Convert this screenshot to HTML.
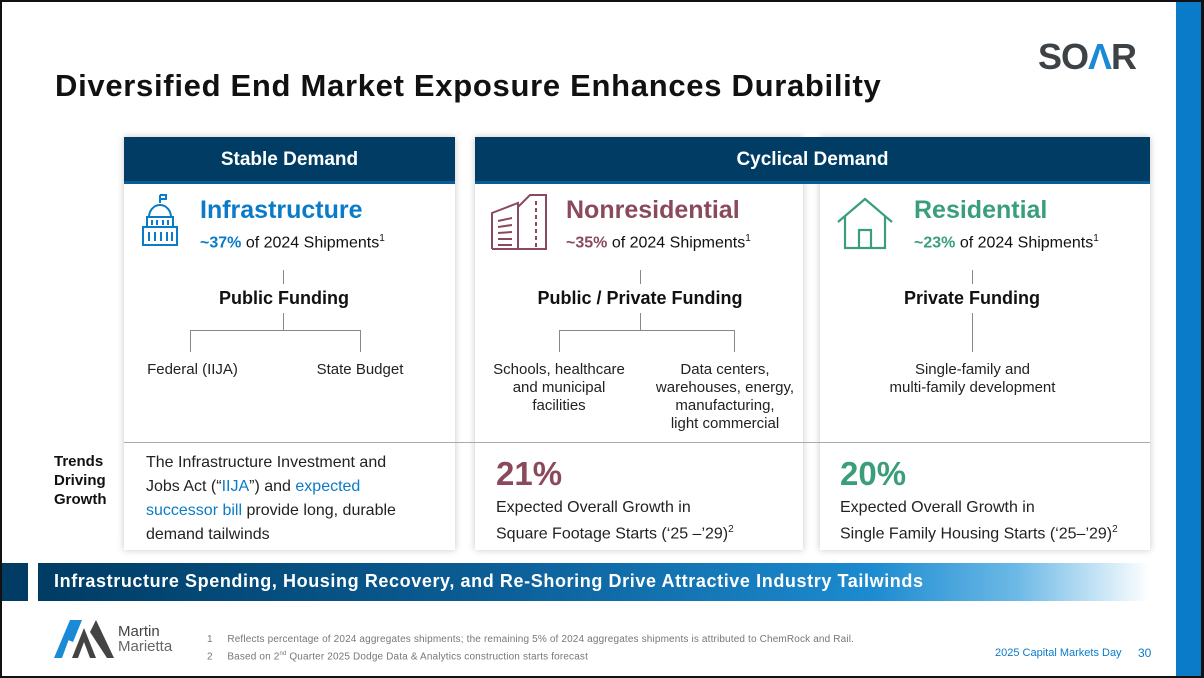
<!DOCTYPE html>
<html><head><meta charset="utf-8">
<style>
*{margin:0;padding:0;box-sizing:border-box}
body{width:1204px;height:678px;overflow:hidden;background:#fff;font-family:"Liberation Sans",sans-serif;position:relative}
.a{position:absolute}
.frame{left:0;top:0;width:1204px;height:678px;border:2px solid #111;border-right:3px solid #111;z-index:20;pointer-events:none}
.stripe{left:1176px;top:0;width:25px;height:678px;background:#0a7bc8}
.title{left:55px;top:68px;font-size:31px;font-weight:bold;color:#111;letter-spacing:0.7px}
.panel{top:137px;height:413px;background:#fff;box-shadow:0 0 7px rgba(0,0,0,0.22)}
.hdr{top:137px;height:47px;background:#003c64;color:#fff;font-weight:bold;font-size:19px;text-align:center;line-height:45px;border-bottom:3px solid #0a5c95}
.cat{font-size:25px;font-weight:bold}
.sub{font-size:16px;color:#111}
.sub sup{font-size:10px}
.fund{font-size:18px;font-weight:bold;color:#111;text-align:center}
.item{font-size:15px;color:#222;text-align:center;line-height:18px}
.vl{width:1px;background:#888}
.hl{height:1px;background:#888}
.big{font-size:33px;font-weight:bold}
.txt{font-size:16px;color:#222;line-height:22px}
.txt sup{font-size:10px}
</style></head><body>
<div class="a frame"></div>
<div class="a stripe"></div>
<div class="a" style="left:1038px;top:36px;font-size:36px;font-weight:900;color:#3d4246;letter-spacing:-1px;font-family:'Liberation Sans',sans-serif">SO<span style="color:#1a8ad6">Λ</span>R</div>
<div class="a title">Diversified End Market Exposure Enhances Durability</div>

<div class="a panel" style="left:124px;width:331px"></div>
<div class="a panel" style="left:475px;width:328px"></div>
<div class="a panel" style="left:820px;width:330px"></div>

<div class="a hdr" style="left:124px;width:331px">Stable Demand</div>
<div class="a hdr" style="left:475px;width:675px">Cyclical Demand</div>

<!-- Infrastructure -->
<svg class="a" style="left:140px;top:193px" width="44" height="56" viewBox="0 0 44 56" fill="none" stroke="#0a7bc8" stroke-width="2"><path d="M20 2v8M20 2h6v4h-6"/><path d="M9 24a11 12 0 0 1 22 0"/><rect x="7" y="24" width="26" height="10"/><path d="M12 27v5M17 27v5M23 27v5M28 27v5"/><rect x="3" y="34" width="34" height="18"/><path d="M9 39v9M15 39v9M21 39v9M27 39v9M32 39v9"/></svg>
<div class="a cat" style="left:200px;top:196px;color:#0a7bc8">Infrastructure</div>
<div class="a sub" style="left:200px;top:233px"><b style="color:#0a7bc8">~37%</b> of 2024 Shipments<sup>1</sup></div>
<div class="a vl" style="left:283px;top:270px;height:14px"></div>
<div class="a fund" style="left:124px;width:320px;top:288px">Public Funding</div>
<div class="a vl" style="left:283px;top:313px;height:17px"></div>
<div class="a hl" style="left:190px;top:330px;width:170px"></div>
<div class="a vl" style="left:190px;top:330px;height:22px"></div>
<div class="a vl" style="left:360px;top:330px;height:22px"></div>
<div class="a item" style="left:140px;top:361px;width:105px">Federal (IIJA)</div>
<div class="a item" style="left:305px;top:361px;width:110px">State Budget</div>

<!-- Nonresidential -->
<svg class="a" style="left:490px;top:193px" width="60" height="58" viewBox="0 0 60 58" fill="none" stroke="#8b4a5c" stroke-width="2"><path d="M2 56V20l26-10v46M28 14l12-12h16v54H28"/><path d="M2 56h54"/><path d="M8 28l14-3M8 34l14-2M8 40l14-1M8 46h14M8 52h14"/><path d="M46 8v46" stroke-dasharray="4 3"/></svg>
<div class="a cat" style="left:566px;top:196px;color:#8b4a5c">Nonresidential</div>
<div class="a sub" style="left:566px;top:233px"><b style="color:#8b4a5c">~35%</b> of 2024 Shipments<sup>1</sup></div>
<div class="a vl" style="left:640px;top:270px;height:14px"></div>
<div class="a fund" style="left:480px;width:320px;top:288px">Public / Private Funding</div>
<div class="a vl" style="left:640px;top:313px;height:17px"></div>
<div class="a hl" style="left:559px;top:330px;width:175px"></div>
<div class="a vl" style="left:559px;top:330px;height:22px"></div>
<div class="a vl" style="left:734px;top:330px;height:22px"></div>
<div class="a item" style="left:484px;top:361px;width:150px">Schools, healthcare<br>and municipal<br>facilities</div>
<div class="a item" style="left:645px;top:361px;width:160px">Data centers,<br>warehouses, energy,<br>manufacturing,<br>light commercial</div>

<!-- Residential -->
<svg class="a" style="left:836px;top:196px" width="58" height="54" viewBox="0 0 58 54" fill="none" stroke="#3a9e7a" stroke-width="2.2"><path d="M2 26L29 3l27 23"/><path d="M9 20v32h40V20"/><path d="M23 52V34h12v18"/></svg>
<div class="a cat" style="left:914px;top:196px;color:#3a9e7a">Residential</div>
<div class="a sub" style="left:914px;top:233px"><b style="color:#3a9e7a">~23%</b> of 2024 Shipments<sup>1</sup></div>
<div class="a vl" style="left:972px;top:270px;height:14px"></div>
<div class="a fund" style="left:812px;width:320px;top:288px">Private Funding</div>
<div class="a vl" style="left:972px;top:313px;height:39px"></div>
<div class="a item" style="left:860px;top:361px;width:225px">Single-family and<br>multi-family development</div>

<div class="a hl" style="left:124px;top:442px;width:1026px;background:#aaa"></div>

<div class="a" style="left:54px;top:452px;font-size:15px;font-weight:bold;color:#111;line-height:19px">Trends<br>Driving<br>Growth</div>
<div class="a txt" style="left:146px;top:451px;width:300px;line-height:24px">The Infrastructure Investment and<br>Jobs Act (“<span style="color:#0a7bc8">IIJA</span>”) and <span style="color:#0a7bc8">expected</span><br><span style="color:#0a7bc8">successor bill</span> provide long, durable<br>demand tailwinds</div>
<div class="a big" style="left:496px;top:455px;color:#8b4a5c">21%</div>
<div class="a txt" style="left:496px;top:497px">Expected Overall Growth in<br>Square Footage Starts (‘25 –’29)<sup>2</sup></div>
<div class="a big" style="left:840px;top:455px;color:#3a9e7a">20%</div>
<div class="a txt" style="left:840px;top:497px">Expected Overall Growth in<br>Single Family Housing Starts (‘25–’29)<sup>2</sup></div>

<div class="a" style="left:0;top:563px;width:28px;height:38px;background:#003c64"></div>
<div class="a" style="left:38px;top:563px;width:1112px;height:38px;background:linear-gradient(90deg,#003c64 0%,#0b5d95 40%,#1c8bd0 75%,#6cb9e6 88%,#fff 100%);color:#fff;font-size:18px;font-weight:bold;line-height:37px;padding-left:16px;letter-spacing:0.6px">Infrastructure Spending, Housing Recovery, and Re-Shoring Drive Attractive Industry Tailwinds</div>

<svg class="a" style="left:54px;top:620px" width="62" height="38" viewBox="0 0 62 38"><path d="M0 38L16 0h6L8 38z" fill="#1a8ad6"/><path d="M14 20L22 0h6l-9 22z" fill="#1a8ad6"/><path d="M18 38L30 8l12 30h-6l-6-16-6 16z" fill="#444"/><path d="M36 12L42 0l18 38h-7z" fill="#444"/></svg>
<div class="a" style="left:118px;top:624px;font-size:15px;color:#444;line-height:15px">Martin<br><span style="font-weight:300;color:#666">Marietta</span></div>
<div class="a" style="left:207px;top:633px;font-size:10px;color:#777;line-height:14px;letter-spacing:0.15px">1&nbsp;&nbsp;&nbsp;&nbsp;&nbsp;Reflects percentage of 2024 aggregates shipments; the remaining 5% of 2024 aggregates shipments is attributed to ChemRock and Rail.<br>2&nbsp;&nbsp;&nbsp;&nbsp;&nbsp;Based on 2<sup style="font-size:6px">nd</sup> Quarter 2025 Dodge Data &amp; Analytics construction starts forecast</div>
<div class="a" style="left:995px;top:647px;font-size:11px;color:#0a7bc8">2025 Capital Markets Day</div>
<div class="a" style="left:1138px;top:646px;font-size:12px;color:#0a7bc8">30</div>
</body></html>
